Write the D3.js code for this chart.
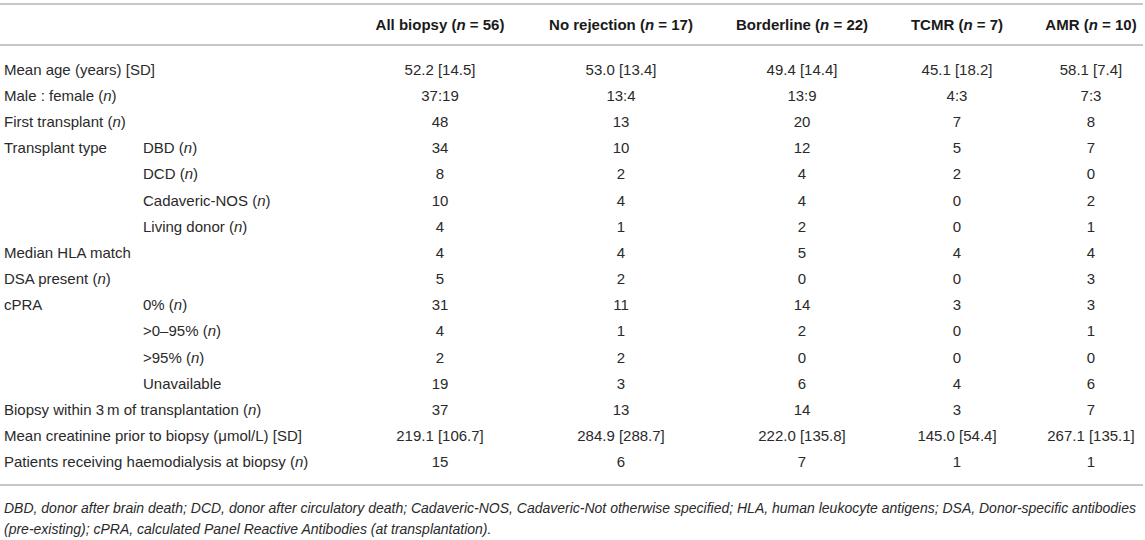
<!DOCTYPE html>
<html>
<head>
<meta charset="utf-8">
<script src="https://cdn.jsdelivr.net/npm/d3@7"></script>
<style>
  html, body { margin: 0; padding: 0; background: #fff; }
  svg { display: block; font-family: "Liberation Sans", Arial, Helvetica, sans-serif; }
  .rule { stroke: #b5b5b5; stroke-width: 1.6; }
  .head { font-weight: bold; font-size: 15px; fill: #1a1a1a; }
  .cell { font-size: 15px; fill: #2a2a2a; }
  .note { font-size: 14px; font-style: italic; fill: #2a2a2a; }
</style>
</head>
<body>
<div id="chart"></div>
<script>
// Table 1 style summary: one row per characteristic, one column per biopsy group.
const groups = ["All biopsy (n = 56)", "No rejection (n = 17)", "Borderline (n = 22)", "TCMR (n = 7)", "AMR (n = 10)"];

const rowLabels = [
  "Mean age (years) [SD]", "Male : female (n)", "First transplant (n)", "Transplant type", "", "", "",
  "Median HLA match", "DSA present (n)", "cPRA", "", "", "",
  "Biopsy within 3\u2009m of transplantation (n)", "Mean creatinine prior to biopsy (\u03bcmol/L) [SD]",
  "Patients receiving haemodialysis at biopsy (n)"
];
const subLabels = [
  "", "", "", "DBD (n)", "DCD (n)", "Cadaveric-NOS (n)", "Living donor (n)",
  "", "", "0% (n)", ">0\u201395% (n)", ">95% (n)", "Unavailable",
  "", "", ""
];

const allBiopsy = ["52.2 [14.5]", "37:19", "48", "34", "8", "10", "4", "4", "5", "31", "4", "2", "19", "37", "219.1 [106.7]", "15"];
const noRejection = ["53.0 [13.4]", "13:4", "13", "10", "2", "4", "1", "4", "2", "11", "1", "2", "3", "13", "284.9 [288.7]", "6"];
const borderline = ["49.4 [14.4]", "13:9", "20", "12", "4", "4", "2", "5", "0", "14", "2", "0", "6", "14", "222.0 [135.8]", "7"];
const tcmr = ["45.1 [18.2]", "4:3", "7", "5", "2", "0", "0", "4", "0", "3", "0", "0", "4", "3", "145.0 [54.4]", "1"];
const amr = ["58.1 [7.4]", "7:3", "8", "7", "0", "2", "1", "4", "3", "3", "1", "0", "6", "7", "267.1 [135.1]", "1"];

const footnotes = [
  "DBD, donor after brain death; DCD, donor after circulatory death; Cadaveric-NOS, Cadaveric-Not otherwise specified; HLA, human leukocyte antigens; DSA, Donor-specific antibodies",
  "(pre-existing); cPRA, calculated Panel Reactive Antibodies (at transplantation)."
];

const columns = [allBiopsy, noRejection, borderline, tcmr, amr];

const W = 1145, H = 540;
const svg = d3.select("#chart").append("svg").attr("width", W).attr("height", H);

// column centres are set by content width in the original, so an ordinal map
const colX = d3.scaleOrdinal(groups, [440, 621, 802, 957, 1091]);
const rowY = d3.scalePoint(d3.range(rowLabels.length), [69.5, 462]);

// write a string, setting the lone statistical "n" in italics
function richText(sel, s) {
  const parts = s.split("(n");
  sel.append("tspan").text(parts[0]);
  parts.slice(1).forEach((p) => {
    sel.append("tspan").text("(");
    sel.append("tspan").attr("font-style", "italic").text("n");
    sel.append("tspan").text(p);
  });
}

// rules
[4, 45, 485].forEach((y) => {
  svg.append("line").attr("class", "rule").attr("x1", 0).attr("x2", 1143).attr("y1", y).attr("y2", y);
});

// header
svg.append("g").selectAll("text").data(groups).join("text")
  .attr("class", "head").attr("text-anchor", "middle")
  .attr("x", (d) => colX(d)).attr("y", 25).attr("dy", "0.35em")
  .each(function (d) { richText(d3.select(this), d); });

// row labels
svg.append("g").selectAll("text").data(rowLabels).join("text")
  .attr("class", "cell").attr("x", 4).attr("y", (d, i) => rowY(i)).attr("dy", "0.35em")
  .each(function (d) { richText(d3.select(this), d); });
svg.append("g").selectAll("text").data(subLabels).join("text")
  .attr("class", "cell").attr("x", 143).attr("y", (d, i) => rowY(i)).attr("dy", "0.35em")
  .each(function (d) { richText(d3.select(this), d); });

// values
columns.forEach((vals, c) => {
  svg.append("g").selectAll("text").data(vals).join("text")
    .attr("class", "cell").attr("text-anchor", "middle")
    .attr("x", colX(groups[c])).attr("y", (d, i) => rowY(i)).attr("dy", "0.35em")
    .text((d) => d);
});

// footnote
svg.append("g").selectAll("text").data(footnotes).join("text")
  .attr("class", "note").attr("x", 4).attr("y", (d, i) => 508 + i * 21).attr("dy", "0.35em")
  .text((d) => d);
</script>
</body>
</html>
